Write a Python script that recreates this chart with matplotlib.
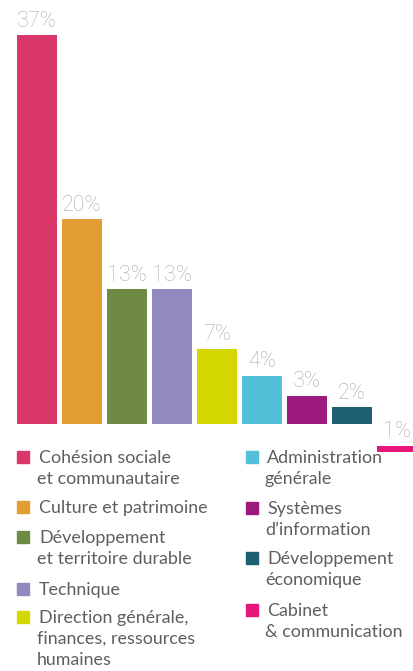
import matplotlib
matplotlib.use("Agg")
import matplotlib.pyplot as plt
from matplotlib.patches import Rectangle

categories = ["Cohésion sociale\net communautaire", "Culture et patrimoine",
              "Développement\net territoire durable", "Technique",
              "Direction générale,\nfinances, ressources\nhumaines",
              "Administration\ngénérale", "Systèmes\nd’information",
              "Développement\néconomique", "Cabinet\n& communication"]
values = [37.2, 19.6, 12.9, 12.9, 7.2, 4.6, 2.7, 1.6, 0.6]
labels = ["37%", "20%", "13%", "13%", "7%", "4%", "3%", "2%", "1%"]
bottoms = [0, 0, 0, 0, 0, 0, 0, 0, -2.68]
colors = ["#d9376a", "#e29e33", "#6e8a45", "#9488c0", "#d4d800",
          "#53c0d9", "#9c1a7e", "#1e5f73", "#e6157a"]

W, H = 414, 671
fig = plt.figure(figsize=(W / 100, H / 100), dpi=100)

ax = fig.add_axes([0, (H - 460) / H, 1, 460 / H])
ppu = 10.45  # pixels per percent
ax.set_ylim(-36 / ppu, 424 / ppu)
ax.set_xlim(-37 / 45, (414 - 37) / 45)
ax.axis("off")

x = list(range(len(values)))
ax.bar(x, values, bottom=bottoms, width=40 / 45, color=colors, clip_on=False)
for xi, v, b, lab in zip(x, values, bottoms, labels):
    ax.annotate(lab, (xi, v + b), xytext=(0, 2.5), textcoords="offset points",
                ha="center", va="bottom", fontsize=15.5, color="#ababab",
                family="Roboto", fontweight="light", clip_on=False)

def fx(px):
    return px / W

def fy(py):
    return 1 - py / H

text_color = "#625d5d"
col_left = [(17, 39, 463), (17, 39, 513), (17, 39, 543), (17, 39, 595), (17, 39, 623)]
col_right = [(246, 267, 463), (246, 267, 514), (246, 267, 564), (246, 267, 616)]
positions = col_left + col_right
line_h = 21
for cat, col, (sx, tx, base) in zip(categories, colors, positions):
    fig.patches.append(Rectangle((fx(sx), fy(base)), 12 / W, 12 / H,
                                 transform=fig.transFigure, color=col))
    for k, line in enumerate(cat.split("\n")):
        fig.text(fx(tx - (2 if k > 0 else 0)), fy(base + k * line_h), line,
                 fontsize=12.9, color=text_color, family="Lato",
                 va="baseline", ha="left")

fig.savefig("out.png", dpi=100)
